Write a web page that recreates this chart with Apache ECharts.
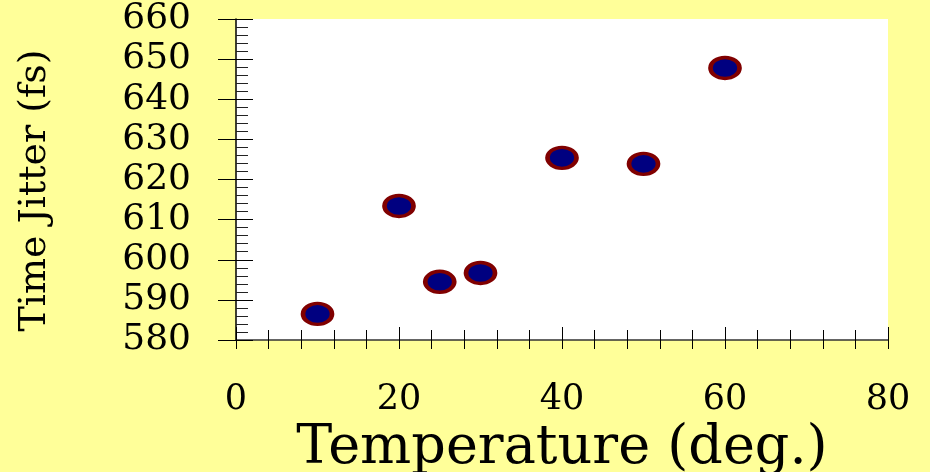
<!DOCTYPE html>
<html>
<head>
<meta charset="utf-8">
<script src="https://cdn.jsdelivr.net/npm/echarts@6/dist/echarts.min.js"></script>
<style>
  html, body { margin: 0; padding: 0; background: #FFFF99; }
  #main { width: 930px; height: 472px; }
</style>
</head>
<body>
<div id="main"></div>
<script>
// data
var temperature = [10, 20, 25, 30, 40, 50, 60];
var jitter = [586.5, 613.4, 594.5, 596.7, 625.4, 623.9, 647.8];
var xName = 'Temperature (deg.)';
var yName = 'Time Jitter (fs)';

var points = temperature.map(function (t, i) { return [t, jitter[i]]; });

var mychart = echarts.init(document.getElementById('main'));
var font = 'DejaVu Serif';

var option = {
  backgroundColor: '#FFFF99',
  animation: false,
  grid: {
    left: 236, right: 42, top: 19, bottom: 132,
    outerBoundsMode: 'none', containLabel: false,
    show: true, backgroundColor: '#ffffff', borderWidth: 0
  },
  xAxis: [
    {
      type: 'value', min: 0, max: 80, interval: 20,
      name: xName, nameLocation: 'middle', nameGap: 80,
      nameTextStyle: { fontFamily: font, fontSize: 54, color: '#000' },
      axisLine: { show: true, lineStyle: { color: '#333', width: 1.5 } },
      axisTick: { show: true, inside: true, length: 13, lineStyle: { color: '#000' } },
      minorTick: { show: true, splitNumber: 5, length: 10, lineStyle: { color: '#000' } },
      axisLabel: { fontFamily: font, fontSize: 35, color: '#000', margin: 42 },
      splitLine: { show: false }
    },
    {
      // outer half of the x ticks
      type: 'value', min: 0, max: 80, interval: 20, position: 'bottom',
      axisLine: { show: false },
      axisTick: { show: true, inside: false, length: 9, lineStyle: { color: '#000' } },
      minorTick: { show: true, splitNumber: 5, length: 9, lineStyle: { color: '#000' } },
      axisLabel: { show: false },
      splitLine: { show: false }
    }
  ],
  yAxis: [
    {
      type: 'value', min: 580, max: 660, interval: 10,
      name: yName, nameLocation: 'middle', nameGap: 182,
      nameTextStyle: { fontFamily: font, fontSize: 38, color: '#000', padding: [0, 22, 0, 0] },
      axisLine: { show: true, lineStyle: { color: '#000', width: 1.5 } },
      axisTick: { show: true, inside: true, length: 17, lineStyle: { color: '#000' } },
      minorTick: { show: true, splitNumber: 5, length: 12, lineStyle: { color: '#222' } },
      axisLabel: { fontFamily: font, fontSize: 36, color: '#000', margin: 45, padding: [7, 0, 0, 0] },
      splitLine: { show: false }
    },
    {
      // outer half of the major y ticks
      type: 'value', min: 580, max: 660, interval: 10, position: 'left',
      axisLine: { show: false },
      axisTick: { show: true, inside: false, length: 18, lineStyle: { color: '#000' } },
      axisLabel: { show: false },
      splitLine: { show: false }
    }
  ],
  series: [
    {
      type: 'scatter',
      data: points,
      symbol: 'path://M0,1 A1,1 0 1,1 2,1 A1,1 0 1,1 0,1 Z',
      symbolSize: [29, 21],
      itemStyle: { color: '#000080', borderColor: '#800000', borderWidth: 4, opacity: 1 }
    }
  ]
};

mychart.setOption(option);
</script>
</body>
</html>
